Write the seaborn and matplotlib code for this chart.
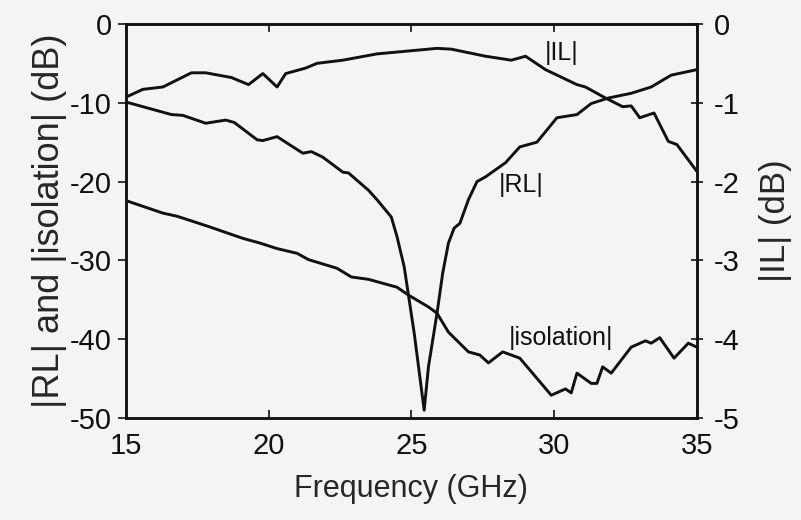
import numpy as np
import pandas as pd
import seaborn as sns
import matplotlib.pyplot as plt

il_freq = [15.0, 15.6, 16.3, 17.3, 17.8, 18.7, 19.3, 19.8, 20.3, 20.6, 21.3, 21.7,
           22.6, 23.8, 25.3, 25.9, 26.4, 27.6, 28.5, 29.0, 29.7, 30.8, 31.1, 31.8,
           32.4, 32.7, 33.0, 33.5, 34.0, 34.3, 35.0]
il_db = [-0.93, -0.83, -0.80, -0.62, -0.62, -0.68, -0.77, -0.63, -0.80, -0.63, -0.56, -0.50,
         -0.46, -0.38, -0.33, -0.31, -0.32, -0.41, -0.46, -0.41, -0.58, -0.77, -0.80, -0.94,
         -1.05, -1.04, -1.19, -1.13, -1.49, -1.53, -1.87]

rl_freq = [15.0, 15.6, 16.6, 17.0, 17.8, 18.5, 18.8, 19.6, 19.8, 20.3, 21.2, 21.5,
           21.9, 22.6, 22.8, 23.5, 23.8, 24.3, 24.5, 24.75, 24.9, 25.1, 25.45,
           25.6, 25.9, 26.1, 26.3, 26.5, 26.7, 27.0, 27.3, 27.6, 28.3, 28.8, 29.4,
           30.1, 30.8, 31.3, 31.9, 32.7, 33.4, 34.1, 35.0]
rl_db = [-9.9, -10.5, -11.5, -11.6, -12.6, -12.2, -12.5, -14.7, -14.8, -14.3, -16.4, -16.2,
         -16.9, -18.8, -18.9, -21.1, -22.3, -24.5, -27.0, -30.8, -34.4, -39.2, -49.0,
         -43.5, -36.7, -31.6, -27.8, -25.9, -25.3, -22.3, -20.0, -19.4, -17.6, -15.6, -15.0,
         -11.9, -11.5, -10.1, -9.4, -8.8, -8.0, -6.5, -5.8]

iso_freq = [15.0, 16.3, 16.8, 17.9, 19.1, 19.7, 20.3, 21.0, 21.4, 22.4, 22.9, 23.5,
            24.5, 24.9, 25.6, 25.9, 26.3, 27.0, 27.4, 27.7, 28.2, 28.8, 29.9, 30.4,
            30.6, 30.8, 31.3, 31.5, 31.7, 32.0, 32.7, 33.2, 33.4, 33.7, 34.2, 34.7, 35.0]
iso_db = [-22.4, -24.0, -24.4, -25.7, -27.2, -27.8, -28.5, -29.1, -29.9, -31.0, -32.1, -32.4,
          -33.4, -34.4, -35.9, -36.7, -39.1, -41.6, -42.0, -43.0, -41.6, -42.4, -47.1, -46.3,
          -46.8, -44.3, -45.6, -45.6, -43.5, -44.3, -41.0, -40.2, -40.5, -39.8, -42.4, -40.5, -41.0]

x_ticks = [15, 20, 25, 30, 35]
left_ticks = [0, -10, -20, -30, -40, -50]
right_ticks = [0, -1, -2, -3, -4, -5]

sns.set_style("ticks")
plt.rcParams['font.family'] = ['Liberation Sans', 'DejaVu Sans']
plt.rcParams['axes.unicode_minus'] = False
bg = '#f4f4f2'
ink = '#111111'

fig = plt.figure(figsize=(8.01, 5.2), dpi=100, facecolor=bg)
ax = fig.add_axes([0.157, 0.196, 0.713, 0.758])
ax.set_facecolor(bg)

rl = pd.DataFrame({'f': rl_freq, 'v': rl_db})
iso = pd.DataFrame({'f': iso_freq, 'v': iso_db})
il = pd.DataFrame({'f': il_freq, 'v': il_db})

sns.lineplot(data=rl, x='f', y='v', ax=ax, color=ink, lw=2.1, sort=False)
sns.lineplot(data=iso, x='f', y='v', ax=ax, color=ink, lw=2.1, sort=False)

ax2 = ax.twinx()
sns.lineplot(data=il, x='f', y='v', ax=ax2, color=ink, lw=2.1, sort=False)

ax.set_xlim(15, 35)
ax.set_ylim(-50, 0)
ax2.set_ylim(-5, 0)
ax.set_xticks(x_ticks)
ax.set_yticks(left_ticks)
ax2.set_yticks(right_ticks)

ax.set_xlabel('Frequency (GHz)', fontsize=22, labelpad=10)
ax.set_ylabel('|RL| and |isolation| (dB)', fontsize=26, labelpad=2)
ax2.set_ylabel('|IL| (dB)', fontsize=25, labelpad=14)

ax.tick_params(axis='x', direction='in', top=True, length=6, width=1.2,
               labelsize=21, pad=10, colors=ink)
ax.tick_params(axis='y', direction='out', length=6, width=1.2, labelsize=21,
               pad=4, colors=ink)
ax2.tick_params(axis='y', direction='inout', length=8, width=1.2, labelsize=21,
                pad=8, colors=ink)

for a in (ax, ax2):
    for s in a.spines.values():
        s.set_visible(True)
        s.set_linewidth(1.8)
        s.set_color(ink)

ax.text(30.25, -3.7, '|IL|', fontsize=18, ha='center', va='center', color=ink)
ax.text(28.85, -20.4, '|RL|', fontsize=18, ha='center', va='center', color=ink)
ax.text(30.25, -39.8, '|isolation|', fontsize=18, ha='center', va='center', color=ink)

fig.savefig('out.png', dpi=100, facecolor=bg)
